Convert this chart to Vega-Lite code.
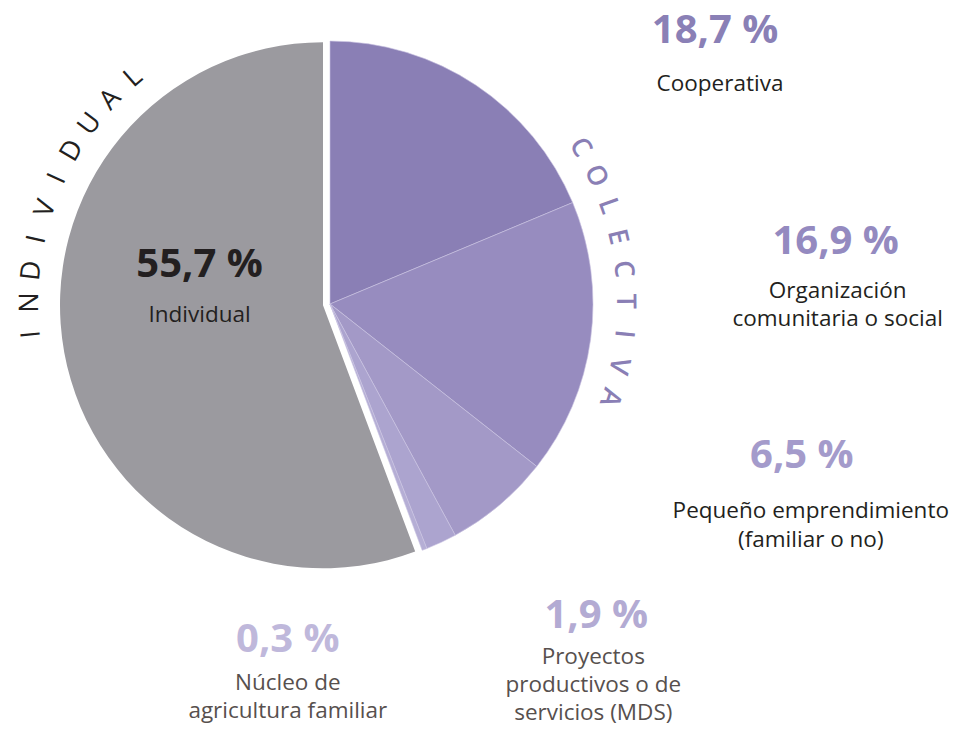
{
  "$schema": "https://vega.github.io/schema/vega-lite/v6.json",
  "width": 660,
  "height": 608,
  "padding": 0,
  "autosize": {"type": "pad"},
  "background": "white",
  "config": {"view": {"stroke": null}, "font": "Open Sans"},
  "datasets": {
    "sectores": [
      {"orden": 1, "tipo": "Cooperativa", "porcentaje": 18.7, "pct": "18,7 %", "etiqueta": "Cooperativa"},
      {"orden": 2, "tipo": "Organización comunitaria o social", "porcentaje": 16.9, "pct": "16,9 %", "etiqueta": "Organización\ncomunitaria o social"},
      {"orden": 3, "tipo": "Pequeño emprendimiento (familiar o no)", "porcentaje": 6.5, "pct": "6,5 %", "etiqueta": "Pequeño emprendimiento\n(familiar o no)"},
      {"orden": 4, "tipo": "Proyectos productivos o de servicios (MDS)", "porcentaje": 1.9, "pct": "1,9 %", "etiqueta": "Proyectos\nproductivos o de\nservicios (MDS)"},
      {"orden": 5, "tipo": "Núcleo de agricultura familiar", "porcentaje": 0.3, "pct": "0,3 %", "etiqueta": "Núcleo de\nagricultura familiar"},
      {"orden": 6, "tipo": "Individual", "porcentaje": 55.7, "pct": "55,7 %", "etiqueta": "Individual"}
    ],
    "individual": [
      {"i": 0, "letra": "I"}, {"i": 1, "letra": "N"}, {"i": 2, "letra": "D"}, {"i": 3, "letra": "I"}, {"i": 4, "letra": "V"},
      {"i": 5, "letra": "I"}, {"i": 6, "letra": "D"}, {"i": 7, "letra": "U"}, {"i": 8, "letra": "A"}, {"i": 9, "letra": "L"}
    ],
    "colectiva": [
      {"i": 0, "letra": "C"}, {"i": 1, "letra": "O"}, {"i": 2, "letra": "L"}, {"i": 3, "letra": "E"}, {"i": 4, "letra": "C"},
      {"i": 5, "letra": "T"}, {"i": 6, "letra": "I"}, {"i": 7, "letra": "V"}, {"i": 8, "letra": "A"}
    ]
  },
  "layer": [
    {
      "data": {"name": "sectores"},
      "transform": [
        {"stack": "porcentaje", "groupby": [], "sort": [{"field": "orden", "order": "ascending"}], "as": ["inicio", "fin"]}
      ],
      "encoding": {
        "theta": {"field": "inicio", "type": "quantitative", "stack": null, "scale": {"domain": [0, 100], "range": [0, 6.2832]}},
        "theta2": {"field": "fin"}
      },
      "layer": [
        {
          "mark": {"type": "arc", "outerRadius": 263, "stroke": "#cbc5e2", "strokeWidth": 0.6},
          "transform": [{"filter": "datum.tipo !== 'Individual'"}],
          "encoding": {
            "color": {
              "field": "tipo", "type": "nominal", "legend": null,
              "scale": {
                "domain": ["Cooperativa", "Organización comunitaria o social", "Pequeño emprendimiento (familiar o no)", "Proyectos productivos o de servicios (MDS)", "Núcleo de agricultura familiar", "Individual"],
                "range": ["#8A7FB5", "#978CBF", "#A399C7", "#ACA4CF", "#B5AED5", "#9B9A9F"]
              }
            }
          }
        },
        {
          "mark": {"type": "arc", "outerRadius": 263, "xOffset": -7, "yOffset": 1.3},
          "transform": [{"filter": "datum.tipo === 'Individual'"}],
          "encoding": {
            "color": {"field": "tipo", "type": "nominal", "legend": null}
          }
        },
        {
          "mark": {"type": "text", "radius": 263, "dx": 385, "dy": 2, "fontSize": 40, "fontWeight": "bold", "fill": "#8A80B6", "align": "center", "baseline": "alphabetic"},
          "transform": [{"filter": "datum.orden === 1"}],
          "encoding": {"text": {"field": "pct"}}
        },
        {
          "mark": {"type": "text", "radius": 263, "dx": 390, "dy": 50, "fontSize": 22.5, "fill": "#231F20", "align": "center", "baseline": "alphabetic", "lineBreak": "\n", "lineHeight": 28.5},
          "transform": [{"filter": "datum.orden === 1"}],
          "encoding": {"text": {"field": "etiqueta"}}
        },
        {
          "mark": {"type": "text", "radius": 263, "dx": 263, "dy": 51, "fontSize": 40, "fontWeight": "bold", "fill": "#948AC0", "align": "center", "baseline": "alphabetic"},
          "transform": [{"filter": "datum.orden === 2"}],
          "encoding": {"text": {"field": "pct"}}
        },
        {
          "mark": {"type": "text", "radius": 263, "dx": 265, "dy": 95, "fontSize": 22.5, "fill": "#231F20", "align": "center", "baseline": "alphabetic", "lineBreak": "\n", "lineHeight": 28.5},
          "transform": [{"filter": "datum.orden === 2"}],
          "encoding": {"text": {"field": "etiqueta"}}
        },
        {
          "mark": {"type": "text", "radius": 263, "dx": 265, "dy": 2, "fontSize": 40, "fontWeight": "bold", "fill": "#A49BCB", "align": "center", "baseline": "alphabetic"},
          "transform": [{"filter": "datum.orden === 3"}],
          "encoding": {"text": {"field": "pct"}}
        },
        {
          "mark": {"type": "text", "radius": 263, "dx": 274, "dy": 52, "fontSize": 22.5, "fill": "#231F20", "align": "center", "baseline": "alphabetic", "lineBreak": "\n", "lineHeight": 28.5},
          "transform": [{"filter": "datum.orden === 3"}],
          "encoding": {"text": {"field": "etiqueta"}}
        },
        {
          "mark": {"type": "text", "radius": 263, "dx": 141, "dy": 93, "fontSize": 40, "fontWeight": "bold", "fill": "#B3ABD3", "align": "center", "baseline": "alphabetic"},
          "transform": [{"filter": "datum.orden === 4"}],
          "encoding": {"text": {"field": "pct"}}
        },
        {
          "mark": {"type": "text", "radius": 263, "dx": 138, "dy": 129, "fontSize": 22.5, "fill": "#57504E", "align": "center", "baseline": "alphabetic", "lineBreak": "\n", "lineHeight": 28},
          "transform": [{"filter": "datum.orden === 4"}],
          "encoding": {"text": {"field": "etiqueta"}}
        },
        {
          "mark": {"type": "text", "radius": 263, "dx": -139, "dy": 103, "fontSize": 40, "fontWeight": "bold", "fill": "#BFB8DB", "align": "center", "baseline": "alphabetic"},
          "transform": [{"filter": "datum.orden === 5"}],
          "encoding": {"text": {"field": "pct"}}
        },
        {
          "mark": {"type": "text", "radius": 263, "dx": -139, "dy": 141, "fontSize": 22.5, "fill": "#57504E", "align": "center", "baseline": "alphabetic", "lineBreak": "\n", "lineHeight": 28.5},
          "transform": [{"filter": "datum.orden === 5"}],
          "encoding": {"text": {"field": "etiqueta"}}
        },
        {
          "mark": {"type": "text", "radius": 130, "dx": -176, "dy": -149, "fontSize": 40, "fontWeight": "bold", "fill": "#231F20", "align": "center", "baseline": "alphabetic"},
          "transform": [{"filter": "datum.orden === 6"}],
          "encoding": {"text": {"field": "pct"}}
        },
        {
          "mark": {"type": "text", "radius": 130, "dx": -176, "dy": -104, "fontSize": 22.5, "fill": "#231F20", "align": "center", "baseline": "alphabetic"},
          "transform": [{"filter": "datum.orden === 6"}],
          "encoding": {"text": {"field": "etiqueta"}}
        }
      ]
    },
    {
      "data": {"name": "individual"},
      "mark": {"type": "text", "radius": 300, "fontSize": 27, "fill": "#231F20", "align": "center", "baseline": "middle"},
      "encoding": {
        "theta": {"field": "i", "type": "quantitative", "stack": null, "scale": {"domain": [0, 9], "range": [4.611, 5.568]}},
        "angle": {"field": "i", "type": "quantitative", "scale": {"domain": [0, 9], "range": [264.2, 319]}},
        "text": {"field": "letra"}
      }
    },
    {
      "data": {"name": "colectiva"},
      "mark": {"type": "text", "radius": 295, "fontSize": 27, "fontWeight": 600, "fill": "#8A7FB5", "align": "center", "baseline": "middle"},
      "encoding": {
        "theta": {"field": "i", "type": "quantitative", "stack": null, "scale": {"domain": [0, 8], "range": [1.012, 1.892]}},
        "angle": {"field": "i", "type": "quantitative", "scale": {"domain": [0, 8], "range": [58, 108.4]}},
        "text": {"field": "letra"}
      }
    }
  ],
  "resolve": {"scale": {"theta": "independent", "angle": "independent"}}
}
